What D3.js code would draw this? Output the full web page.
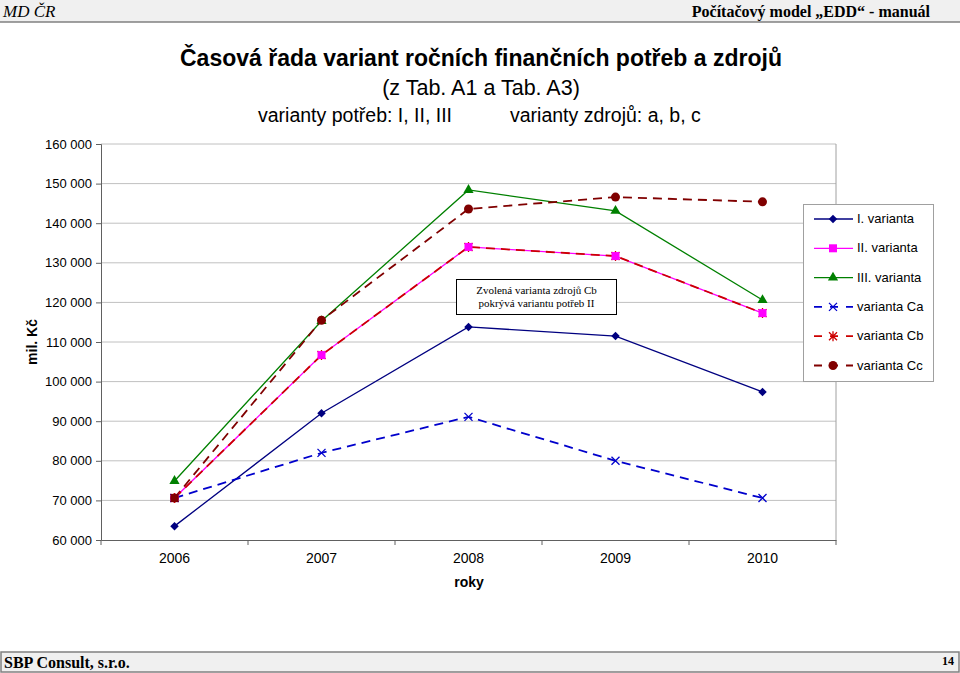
<!DOCTYPE html>
<html>
<head>
<meta charset="utf-8">
<script src="https://cdn.jsdelivr.net/npm/d3@7"></script>
<style>
  body { margin: 0; background: #fff; }
  svg { display: block; }
</style>
</head>
<body>
<svg></svg>
<script>
let w = 960;
let h = 673;

var svg = d3.select("svg").attr("width", w).attr("height", h);

// data
const years = ["2006", "2007", "2008", "2009", "2010"];
const varI = [63500, 92000, 113800, 111500, 97400];
const varII = [70600, 106700, 134000, 131700, 117300];
const varIII = [74900, 115300, 148400, 143100, 120600];
const varCa = [70600, 82000, 91100, 80000, 70600];
const varCb = [70600, 106700, 134000, 131700, 117300];
const varCc = [70600, 115500, 143600, 146600, 145400];
const yTicks = [60000, 70000, 80000, 90000, 100000, 110000, 120000, 130000, 140000, 150000, 160000];

const series = [
  { name: "I. varianta", values: varI, color: "#000080", dash: null, marker: "diamond" },
  { name: "II. varianta", values: varII, color: "#ff00ff", dash: null, marker: "square" },
  { name: "III. varianta", values: varIII, color: "#008000", dash: null, marker: "triangle" },
  { name: "varianta Ca", values: varCa, color: "#0000cc", dash: "9,6", marker: "x" },
  { name: "varianta Cb", values: varCb, color: "#cc0000", dash: "9,6", marker: "star" },
  { name: "varianta Cc", values: varCc, color: "#800000", dash: "9,6", marker: "circle" }
];

// page header / footer
svg.append("rect").attr("x", 0).attr("y", 0).attr("width", w).attr("height", 22)
  .attr("fill", "#f0f0f0");
svg.append("line").attr("x1", 0).attr("x2", w).attr("y1", 22).attr("y2", 22)
  .attr("stroke", "#808080").attr("stroke-width", 1.5);
svg.append("text").attr("x", 3).attr("y", 17)
  .style("font", "italic 17px 'Liberation Serif'").text("MD ČR");
svg.append("text").attr("x", 930).attr("y", 17).attr("text-anchor", "end")
  .style("font", "bold 16px 'Liberation Serif'").text("Počítačový model „EDD“ - manuál");

svg.append("rect").attr("x", 1).attr("y", 652).attr("width", w - 2).attr("height", 20)
  .attr("fill", "#f0f0f0").attr("stroke", "#808080").attr("stroke-width", 1.5);
svg.append("text").attr("x", 4).attr("y", 668)
  .style("font", "bold 16px 'Liberation Serif'").text("SBP Consult, s.r.o.");
svg.append("text").attr("x", 954).attr("y", 665).attr("text-anchor", "end")
  .style("font", "bold 12px 'Liberation Serif'").text("14");

// titles
svg.append("text").attr("x", 481).attr("y", 66).attr("text-anchor", "middle")
  .style("font", "bold 23px 'Liberation Sans'").text("Časová řada variant ročních finančních potřeb a zdrojů");
svg.append("text").attr("x", 481).attr("y", 95).attr("text-anchor", "middle")
  .style("font", "21.5px 'Liberation Sans'").text("(z Tab. A1 a Tab. A3)");
svg.append("text").attr("x", 258).attr("y", 122)
  .style("font", "19.5px 'Liberation Sans'").text("varianty potřeb: I, II, III");
svg.append("text").attr("x", 510).attr("y", 122)
  .style("font", "19.5px 'Liberation Sans'").text("varianty zdrojů: a, b, c");

// scales
const pLeft = 101, pRight = 836, pTop = 144, pBottom = 540;
var x = d3.scaleBand().domain(years).range([pLeft, pRight]);
var y = d3.scaleLinear().domain([60000, 160000]).range([pBottom, pTop]);

// gridlines
svg.append("g").selectAll("line").data(yTicks.slice(1)).enter().append("line")
  .attr("x1", pLeft).attr("x2", pRight)
  .attr("y1", d => y(d)).attr("y2", d => y(d))
  .attr("stroke", "#c0c0c0");
svg.append("line").attr("x1", pRight).attr("x2", pRight).attr("y1", pTop).attr("y2", pBottom)
  .attr("stroke", "#a0a0a0");

// axes
var fmt = d => d3.format(",")(d).replace(/,/g, " ");
var yAxis = svg.append("g").attr("transform", `translate(${pLeft},0)`)
  .call(d3.axisLeft(y).tickValues(yTicks).tickFormat(fmt).tickSize(5).tickPadding(4));
yAxis.select(".domain").attr("stroke", "#606060");
yAxis.selectAll(".tick line").attr("stroke", "#606060");
yAxis.selectAll("text").style("font", "13px 'Liberation Sans'").attr("fill", "#000");

var xAxis = svg.append("g").attr("transform", `translate(0,${pBottom})`)
  .call(d3.axisBottom(x).tickSize(0).tickPadding(13));
xAxis.select(".domain").attr("stroke", "#606060");
xAxis.selectAll("text").style("font", "14px 'Liberation Sans'").attr("fill", "#000");
// category boundary ticks
svg.append("g").selectAll("line").data(years).enter().append("line")
  .attr("x1", d => x(d)).attr("x2", d => x(d))
  .attr("y1", pBottom).attr("y2", pBottom + 5)
  .attr("stroke", "#606060");
svg.append("line").attr("x1", pRight).attr("x2", pRight).attr("y1", pBottom).attr("y2", pBottom + 5)
  .attr("stroke", "#606060");

svg.append("text").attr("x", 469).attr("y", 587).attr("text-anchor", "middle")
  .style("font", "bold 14px 'Liberation Sans'").text("roky");
svg.append("text").attr("transform", "translate(37,342) rotate(-90)").attr("text-anchor", "middle")
  .style("font", "bold 14px 'Liberation Sans'").text("mil. Kč");

// markers
function drawMarker(g, type, color, cx, cy) {
  if (type === "diamond") {
    g.append("rect").attr("x", -3).attr("y", -3).attr("width", 6).attr("height", 6)
      .attr("transform", `translate(${cx},${cy}) rotate(45)`).attr("fill", color);
  } else if (type === "square") {
    g.append("rect").attr("x", cx - 4).attr("y", cy - 4).attr("width", 8).attr("height", 8).attr("fill", color);
  } else if (type === "triangle") {
    g.append("path").attr("d", d3.symbol(d3.symbolTriangle, 45)())
      .attr("transform", `translate(${cx},${cy})`).attr("fill", color);
  } else if (type === "circle") {
    g.append("circle").attr("cx", cx).attr("cy", cy).attr("r", 4.5).attr("fill", color);
  } else if (type === "x") {
    g.append("path").attr("d", `M${cx - 4},${cy - 4}L${cx + 4},${cy + 4}M${cx - 4},${cy + 4}L${cx + 4},${cy - 4}`)
      .attr("stroke", color).attr("stroke-width", 1.3);
  } else if (type === "star") {
    g.append("path").attr("d", `M${cx - 4},${cy - 4}L${cx + 4},${cy + 4}M${cx - 4},${cy + 4}L${cx + 4},${cy - 4}M${cx},${cy - 5}L${cx},${cy + 5}`)
      .attr("stroke", color).attr("stroke-width", 1.3);
  }
}

var line = d3.line().x((d, i) => x(years[i]) + x.bandwidth() / 2).y(d => y(d));

// draw order: dashed Cb over II line, II markers on top of Cb markers
const lineOrder = [2, 5, 1, 4, 0, 3];
const markerOrder = [2, 5, 4, 1, 0, 3];
var plot = svg.append("g");
lineOrder.forEach(k => {
  const s = series[k];
  plot.append("path").datum(s.values).attr("d", line)
    .attr("fill", "none").attr("stroke", s.color)
    .attr("stroke-width", s.dash ? 1.8 : 1.3)
    .attr("stroke-dasharray", s.dash);
});
markerOrder.forEach(k => {
  const s = series[k];
  s.values.forEach((v, i) => {
    drawMarker(plot, s.marker, s.color, x(years[i]) + x.bandwidth() / 2, y(v));
  });
});
// 2006 point: dark red square on top (shared start)
drawMarker(plot, "square", "#800000", x(years[0]) + x.bandwidth() / 2, y(varII[0]));

// annotation box
svg.append("rect").attr("x", 456.5).attr("y", 279.5).attr("width", 160).attr("height", 35)
  .attr("fill", "#fff").attr("stroke", "#000");
svg.append("text").attr("x", 536.5).attr("y", 294).attr("text-anchor", "middle")
  .style("font", "11px 'Liberation Serif'").text("Zvolená varianta zdrojů Cb");
svg.append("text").attr("x", 536.5).attr("y", 307).attr("text-anchor", "middle")
  .style("font", "11px 'Liberation Serif'").text("pokrývá variantu potřeb II");

// legend
var lg = svg.append("g");
lg.append("rect").attr("x", 803.5).attr("y", 204.5).attr("width", 130).attr("height", 177)
  .attr("fill", "#fff").attr("stroke", "#a0a0a0");
series.forEach((s, i) => {
  const ly = 219 + i * 29.3;
  lg.append("line").attr("x1", 814).attr("x2", 853).attr("y1", ly).attr("y2", ly)
    .attr("stroke", s.color).attr("stroke-width", s.dash ? 1.8 : 1.3)
    .attr("stroke-dasharray", s.dash ? "8,8" : null);
  drawMarker(lg, s.marker, s.color, 833, ly);
  lg.append("text").attr("x", 857).attr("y", ly + 4)
    .style("font", "13px 'Liberation Sans'").text(s.name);
});
</script>
</body>
</html>
